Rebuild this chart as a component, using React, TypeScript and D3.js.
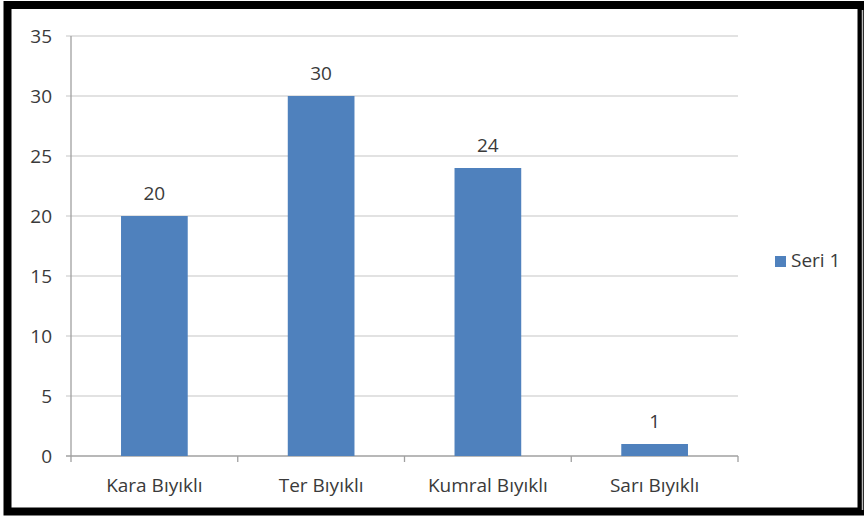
import React from "react";
import * as d3 from "d3";

const categories = ["Kara Bıyıklı", "Ter Bıyıklı", "Kumral Bıyıklı", "Sarı Bıyıklı"];
const values = [20, 30, 24, 1];
const yTicks = [0, 5, 10, 15, 20, 25, 30, 35];
const seriesName = "Seri 1";

export default function App() {
  const W = 864, H = 520;
  const left = 71, right = 738, top = 36, bottom = 456;
  const x = d3.scaleBand<string>().domain(categories).range([left, right]).paddingInner(0.6).paddingOuter(0.3);
  const xb = d3.scaleBand<string>().domain(categories).range([left, right]);
  const y = d3.scaleLinear().domain([0, 35]).range([bottom, top]);
  const font = "'Open Sans', sans-serif";
  const textColor = "#3a3a3a";
  const fs = 19;
  return (
    <svg width={W} height={H} style={{ position: "absolute", left: 0, top: 0 }} xmlns="http://www.w3.org/2000/svg">
      <rect x={0} y={0} width={W} height={H} fill="#fff" />
      {/* frame */}
      <rect x={7.5} y={5} width={854} height={506.5} fill="none" stroke="#000" strokeWidth={8} />
      <line x1={862.5} y1={10} x2={862.5} y2={510} stroke="#bbb" strokeWidth={1.5} />
      {/* gridlines */}
      {yTicks.map((t) => (
        <line key={t} x1={left - 5} x2={right} y1={y(t)} y2={y(t)} stroke={t === 0 ? "#a0a0a0" : "#d9d9d9"} strokeWidth={1.3} />
      ))}
      <line x1={left} x2={left} y1={top} y2={bottom} stroke="#a0a0a0" strokeWidth={1.3} />
      {categories.map((c) => (
        <line key={c} x1={xb(c)! + xb.bandwidth()} x2={xb(c)! + xb.bandwidth()} y1={bottom} y2={bottom + 6} stroke="#a0a0a0" strokeWidth={1.3} />
      ))}
      <line x1={left} x2={left} y1={bottom} y2={bottom + 6} stroke="#a0a0a0" strokeWidth={1.3} />
      {yTicks.map((t) => (
        <text key={t} x={52} y={y(t) + 7} textAnchor="end" fontFamily={font} fontSize={fs} fill={textColor}>{t}</text>
      ))}
      {categories.map((c, i) => (
        <g key={c}>
          <rect x={x(c)} y={y(values[i])} width={x.bandwidth()} height={bottom - y(values[i])} fill="#4F81BD" />
          <text x={x(c)! + x.bandwidth() / 2} y={y(values[i]) - 16} textAnchor="middle" fontFamily={font} fontSize={fs} fill={textColor}>{values[i]}</text>
          <text x={xb(c)! + xb.bandwidth() / 2} y={492} textAnchor="middle" fontFamily={font} fontSize={fs} fill={textColor}>{c}</text>
        </g>
      ))}
      {/* legend */}
      <rect x={775} y={256} width={11} height={11} fill="#4F81BD" />
      <text x={791} y={267} fontFamily={font} fontSize={fs} fill={textColor}>{seriesName}</text>
    </svg>
  );
}
